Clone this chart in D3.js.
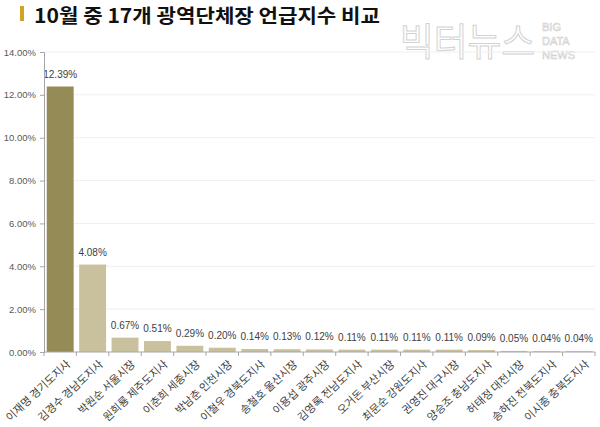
<!DOCTYPE html>
<html><head><meta charset="utf-8">
<script src="https://cdn.jsdelivr.net/npm/d3@7"></script>
<style>body{margin:0;background:#fff;}svg{display:block;font-family:"Noto Sans CJK KR","Noto Sans",sans-serif;}</style>
</head><body>
<svg id="c" width="600" height="427"></svg>
<script>
const categories = ["이재명 경기도지사","김경수 경남도지사","박원순 서울시장","원희룡 제주도지사","이춘희 세종시장","박남춘 인천시장","이철우 경북도지사","송철호 울산시장","이용섭 광주시장","김영록 전남도지사","오거돈 부산시장","최문순 강원도지사","권영진 대구시장","양승조 충남도지사","허태정 대전시장","송하진 전북도지사","이시종 충북도지사"];
const values = [12.39,4.08,0.67,0.51,0.29,0.20,0.14,0.13,0.12,0.11,0.11,0.11,0.11,0.09,0.05,0.04,0.04];
const yTicks = [0,2,4,6,8,10,12,14];

const svg = d3.select("#c");
// title
svg.append("rect").attr("x",20).attr("y",6).attr("width",4).attr("height",15).attr("fill","#d1a224");
svg.append("text").attr("x",34).attr("y",22.5).attr("font-size",19.5).attr("font-weight","bold").attr("fill","#111")
  .attr("textLength",346).attr("lengthAdjust","spacingAndGlyphs").text("10월 중 17개 광역단체장 언급지수 비교");
// watermark
svg.append("text").attr("x",400).attr("y",55).attr("font-size",38).attr("fill","#fff").attr("stroke","#d2d2d2").attr("stroke-width",1)
  .attr("textLength",135).attr("lengthAdjust","spacingAndGlyphs").text("빅터뉴스");
["BIG","DATA","NEWS"].forEach((t,i)=>svg.append("text").attr("x",542).attr("y",31+i*14).attr("font-size",11).attr("fill","#fff").attr("stroke","#cfcfcf").attr("stroke-width",0.6).attr("font-family","Liberation Sans, sans-serif").text(t));

const x = d3.scaleBand().domain(categories).range([44,595]).paddingInner(0.17).paddingOuter(0.085);
const y = d3.scaleLinear().domain([0,14]).range([352,52]);

// grid
svg.append("g").selectAll("line").data(yTicks.slice(1)).join("line")
  .attr("x1",44).attr("x2",595).attr("y1",d=>y(d)).attr("y2",d=>y(d)).attr("stroke","#efefef");

// bars
svg.append("g").selectAll("rect").data(values).join("rect")
  .attr("x",(d,i)=>x(categories[i])).attr("width",x.bandwidth())
  .attr("y",d=>y(d)).attr("height",d=>352-y(d))
  .attr("fill",(d,i)=>i===0?"#958b57":"#c9c19d");

// labels
svg.append("g").selectAll("text").data(values).join("text")
  .attr("x",(d,i)=>x(categories[i])+x.bandwidth()/2).attr("y",d=>y(d)-9)
  .attr("text-anchor","middle").attr("font-size",10).attr("fill","#404040")
  .attr("font-family","Liberation Sans, Noto Sans, sans-serif")
  .text(d=>d.toFixed(2)+"%");

// y axis
const ya = svg.append("g").attr("transform","translate(44,0)")
  .call(d3.axisLeft(y).tickValues(yTicks).tickSize(4).tickFormat(d=>d.toFixed(2)+"%"));
ya.select(".domain").attr("stroke","#a6a6a6");
ya.selectAll(".tick line").attr("stroke","#a6a6a6");
ya.selectAll("text").attr("font-size",9.5).attr("fill","#595959").attr("font-family","Liberation Sans, sans-serif").attr("dx",-1);

// x axis
const xa = svg.append("g").attr("transform","translate(0,352)");
xa.append("line").attr("x1",44).attr("x2",595).attr("stroke","#a6a6a6");
xa.selectAll("line.t").data(d3.range(categories.length+1)).join("line").attr("class","t")
  .attr("x1",i=>44+i*(551/17)).attr("x2",i=>44+i*(551/17)).attr("y1",0).attr("y2",4).attr("stroke","#a6a6a6");
xa.selectAll("text").data(categories).join("text")
  .attr("transform",d=>`translate(${x(d)+x.bandwidth()/2+11},13) rotate(-43)`)
  .attr("text-anchor","end").attr("font-size",11).attr("fill","#404040").text(d=>d);
</script>
</body></html>
